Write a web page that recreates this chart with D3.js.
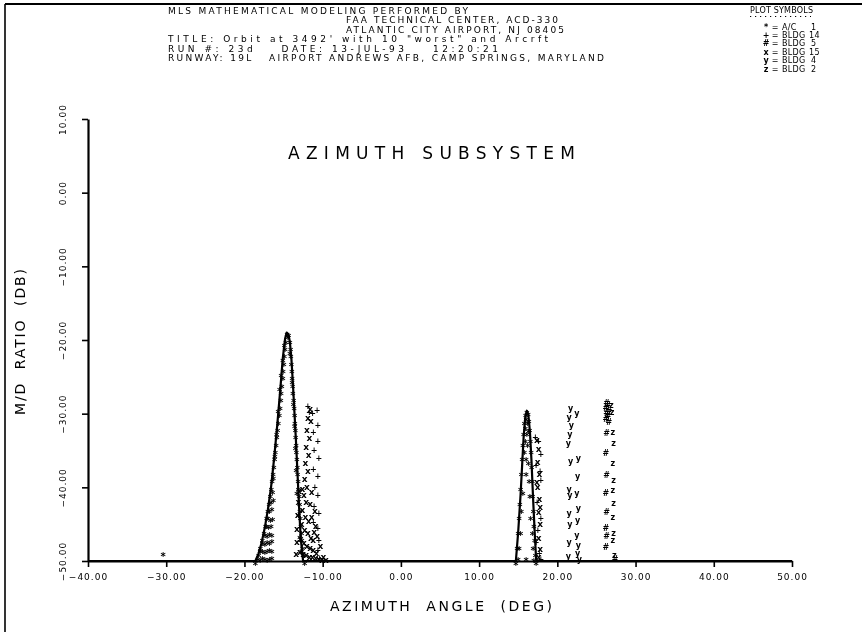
<!DOCTYPE html>
<html>
<head>
<meta charset="utf-8">
<script src="https://cdn.jsdelivr.net/npm/d3@7"></script>
<style>
  html, body { margin: 0; padding: 0; background: #fff; }
  svg { display: block; filter: grayscale(1); }
  text { font-family: "DejaVu Sans", "Liberation Sans", sans-serif; fill: #000; }
</style>
</head>
<body>
<svg id="chart" width="862" height="632"></svg>
<script>
// ---------------- DATA ----------------
const xTicks = [-40, -30, -20, -10, 0, 10, 20, 30, 40, 50];
const yTicks = [10, 0, -10, -20, -30, -40, -50];

const headerLines = [
  "MLS MATHEMATICAL MODELING PERFORMED BY",
  "FAA TECHNICAL CENTER, ACD-330",
  "ATLANTIC CITY AIRPORT, NJ 08405",
  "TITLE: Orbit at 3492' with 10 \"worst\" and Arcrft",
  "RUN #: 23d    DATE: 13-JUL-93    12:20:21",
  "RUNWAY: 19L   AIRPORT ANDREWS AFB, CAMP SPRINGS, MARYLAND"
];

const legendSymbols = ["*", "+", "#", "x", "y", "z"];
const legendNames = ["A/C", "BLDG", "BLDG", "BLDG", "BLDG", "BLDG"];
const legendNumbers = ["1", "14", "5", "15", "4", "2"];

// A/C 1 trace (solid line)
const acLine = [
  [-40,-50],[-18.6,-50],[-18.2,-49],[-17.8,-47.5],[-17.4,-45.5],[-17.0,-43],[-16.6,-40],
  [-16.2,-36],[-15.8,-31.5],[-15.4,-26.5],[-15.1,-22.5],[-14.8,-19.8],[-14.6,-19],
  [-14.4,-19.2],[-14.2,-20.2],[-14.0,-22.5],[-13.8,-26],[-13.6,-30],[-13.4,-34],
  [-13.2,-38.5],[-13.0,-43],[-12.8,-47],[-12.5,-50],[14.7,-50],[15.0,-46],[15.3,-41],
  [15.5,-37],[15.7,-33],[15.9,-30.5],[16.1,-29.6],[16.3,-30.2],[16.5,-32.5],[16.7,-36.5],
  [16.9,-41.5],[17.1,-46],[17.3,-50],[50,-50]
];

// A/C 1 plot symbols "*"
const acPoints = [
  [-18.6,-50],[-18.2,-49],[-17.95,-48],[-17.7,-47],[-17.5,-46],[-17.3,-45],[-17.15,-44],
  [-17.0,-43],[-16.85,-42],[-16.7,-41],[-16.55,-40],[-16.45,-39],[-16.35,-38],[-16.25,-37],
  [-16.15,-36],[-16.05,-35],[-15.95,-34],[-15.85,-33],[-15.75,-32],[-15.65,-31],[-15.55,-30],
  [-15.45,-29],[-15.35,-28],[-15.3,-27],[-15.2,-26],[-15.1,-25],[-15.05,-24],[-14.95,-23],
  [-14.9,-22],[-14.8,-21],[-14.7,-20],[-14.55,-19],[-14.45,-19.4],[-14.35,-19.1],
  [-14.2,-20],[-14.1,-21],[-14.05,-22],[-14.0,-23],[-13.95,-24],[-13.9,-25],[-13.85,-26],
  [-13.8,-27],[-13.7,-28],[-13.65,-29],[-13.6,-30],[-13.55,-31],[-13.5,-32],[-13.45,-33],
  [-13.4,-34],[-13.35,-35],[-13.3,-36],[-13.25,-37],[-13.2,-38],[-13.15,-39],[-13.1,-40],
  [-13.0,-41],[-12.95,-42],[-12.9,-43],[-12.85,-44],[-12.8,-45],[-12.7,-46],[-12.65,-47],
  [-12.55,-48],[-12.45,-49],[-12.3,-50],
  [-16.3,-38.5],[-16.1,-35.5],[-15.9,-32.5],[-15.7,-29.5],[-15.5,-26.5],[-15.3,-24.5],
  [-15.1,-22.5],[-14.9,-20.5],[-14.2,-21.5],[-13.9,-25.5],[-13.75,-28.5],[-13.6,-31.5],
  [-13.5,-34.5],[-13.4,-37.5],[-13.3,-40.5],[-13.1,-43.5],[-12.9,-46.5],[-12.7,-48.5],
  [-18.3,-49.5],[-18.0,-49.6],[-17.7,-49.4],[-17.4,-49.5],[-17.1,-49.6],[-16.8,-49.5],[-16.5,-49.4],
  [-18.0,-48.5],[-17.7,-48.4],[-17.4,-48.6],[-17.1,-48.5],[-16.8,-48.3],[-16.5,-48.5],
  [-17.7,-47.3],[-17.4,-47.5],[-17.1,-47.2],[-16.8,-47.4],[-16.5,-47.1],
  [-17.4,-46.2],[-17.1,-46.4],[-16.8,-46.1],[-16.5,-46.3],
  [-17.2,-45.1],[-16.9,-45.2],[-16.6,-45.0],[-17.0,-44.0],[-16.7,-44.2],[-16.4,-44.1],
  [-16.8,-43.0],[-16.5,-42.8],[-16.3,-41.5],[-16.6,-41.8],[-16.4,-40.4],
  [-30.4,-48.9],
  [14.7,-50],[14.85,-48],[15.0,-46],[15.1,-44],[15.2,-42],[15.3,-40],[15.4,-38],[15.5,-36],
  [15.6,-34],[15.7,-32.5],[15.8,-31],[15.95,-30],[16.1,-29.6],[16.25,-29.9],[16.35,-30.8],
  [16.45,-32],[16.55,-33.5],[16.65,-35],[16.7,-37],[16.8,-39],[16.85,-41],[16.95,-43],
  [17.0,-45],[17.1,-47],[17.2,-49],[17.3,-50],
  [16.0,-30.5],[16.2,-31],[15.9,-31.8],[16.1,-32.5],[16.3,-32.2],[15.9,-33.5],[16.2,-34],
  [15.8,-35],[16.0,-36],[16.3,-36.5],[16.0,-38],[16.4,-39],[15.6,-40.5],[16.5,-41],
  [15.4,-43],[16.6,-44],[15.3,-46],[16.8,-46],[15.1,-48],[16.9,-48],[15.0,-49.5],
  [16.0,-49.5],[17.0,-49.6]
];

// BLDG 14 "+"
const bldg14 = [
  [-10.7,-29.5],[-10.6,-31.5],[-10.6,-33.8],[-10.5,-36.0],[-10.6,-38.5],[-10.6,-41.0],
  [-10.5,-43.5],[-10.6,-45.5],[-10.5,-47.2],[-10.6,-48.6],[-10.4,-49.6],
  [-11.3,-30.0],[-11.2,-32.5],[-11.1,-35.0],[-11.2,-37.5],[-11.0,-40.0],[-11.1,-42.5],[-11.2,-44.8],
  [-11.9,-29.0],[-11.7,-29.8],
  [17.2,-33.2],[17.9,-35.5],[17.3,-37.0],[17.9,-39.0],[17.4,-42.0],[17.9,-44.2],[17.3,-47.5],
  [17.9,-49.8],[17.6,-33.8],[17.8,-37.8],[17.5,-45.8],[17.7,-48.9]
];

// BLDG 5 "#"
const bldg5 = [
  [26.3,-28.6],[26.5,-28.9],[26.2,-29.3],[26.6,-29.6],[26.3,-30.0],[26.5,-30.4],[26.2,-30.8],
  [26.6,-31.2],[26.3,-32.6],[26.2,-35.3],[26.3,-38.3],[26.2,-40.8],[26.3,-43.4],[26.2,-45.5],
  [26.3,-46.7],[26.2,-48.1],[27.4,-49.8]
];

// BLDG 15 "x"
const bldg15 = [
  [-11.6,-29.3],[-11.9,-30.5],[-11.5,-31.0],[-12.0,-32.2],[-11.7,-33.3],[-12.1,-34.5],
  [-11.8,-35.6],[-12.2,-36.7],[-11.9,-37.8],[-12.3,-38.9],[-12.0,-40.0],[-12.4,-41.0],
  [-12.1,-42.0],[-12.6,-43.0],[-12.2,-44.0],[-11.8,-44.5],[-12.7,-45.0],[-12.3,-45.8],
  [-11.9,-46.2],[-11.5,-46.8],[-12.8,-47.0],[-12.4,-47.5],[-12.0,-47.9],[-11.6,-48.2],
  [-11.2,-48.5],[-12.9,-48.8],[-12.5,-49.0],[-12.1,-49.2],[-11.7,-49.4],[-11.3,-49.5],
  [-10.9,-49.6],[-10.5,-49.7],[-10.1,-49.8],
  [-13.0,-40.5],[-12.6,-40.2],[-11.4,-40.6],[-13.1,-42.0],[-11.6,-42.3],[-11.0,-43.2],
  [-13.2,-43.8],[-11.4,-44.0],[-10.9,-45.2],[-13.3,-45.6],[-11.1,-46.0],[-10.7,-46.6],
  [-13.3,-47.4],[-11.2,-47.1],[-10.3,-48.0],[-13.4,-49.0],[-10.8,-48.9],[-9.9,-49.4],[-9.6,-49.8],
  [17.4,-33.5],[17.6,-34.8],[17.5,-36.5],[17.7,-38.2],[17.5,-40.0],[17.7,-41.5],
  [17.6,-43.3],[17.8,-45.0],[17.6,-46.8],[17.8,-48.3],[17.6,-49.5],[17.4,-39.2],[17.8,-42.6]
];

// BLDG 4 "y"
const bldg4 = [
  [21.7,-29.3],[21.5,-30.5],[21.8,-31.6],[21.6,-32.8],[21.4,-34.0],[21.7,-36.5],[21.5,-40.2],
  [21.6,-41.0],[21.5,-43.5],[21.6,-45.0],[21.5,-47.5],[21.4,-49.3],
  [22.5,-30.0],[22.7,-36.0],[22.6,-38.5],[22.5,-40.8],[22.7,-42.8],[22.6,-44.5],[22.5,-46.5],
  [22.7,-47.8],[22.6,-49.0],[22.8,-49.8]
];

// BLDG 2 "z"
const bldg2 = [
  [26.9,-28.8],[27.0,-29.8],[27.1,-32.5],[27.2,-34.0],[27.1,-36.7],[27.2,-39.0],[27.1,-40.4],
  [27.2,-42.1],[27.1,-44.0],[27.2,-46.2],[27.1,-47.2],[27.3,-49.2]
];

// ---------------- DRAW ----------------
const svg = d3.select("#chart");

// page frame
svg.append("line").attr("x1", 5).attr("y1", 4).attr("x2", 862).attr("y2", 4)
  .attr("stroke", "#000").attr("stroke-width", 2.2);
svg.append("line").attr("x1", 5).attr("y1", 4).attr("x2", 5).attr("y2", 632)
  .attr("stroke", "#000").attr("stroke-width", 1.6);

// header block
const headerX = [168, 346, 346, 168, 168, 168];
const headerY = [13.5, 23, 32.5, 42, 51.5, 61];
const headerW = [300, 212, 218, 380, 330, 436];
svg.append("g").selectAll("text").data(headerLines).join("text")
  .attr("x", (d, i) => headerX[i]).attr("y", (d, i) => headerY[i])
  .attr("font-size", 9)
  .attr("textLength", (d, i) => headerW[i]).attr("lengthAdjust", "spacing")
  .style("white-space", "pre")
  .text(d => d);

// legend
svg.append("text").attr("x", 750).attr("y", 13).attr("font-size", 8)
  .style("white-space", "pre").style("letter-spacing", "0.2px").text("PLOT SYMBOLS");
svg.append("line").attr("x1", 750).attr("x2", 811).attr("y1", 16.5).attr("y2", 16.5)
  .attr("stroke", "#000").attr("stroke-width", 1.2).attr("stroke-dasharray", "1.2,3.8");
const lg = svg.append("g");
const legY = (d, i) => 29.5 + i * 8.4;
lg.selectAll("text.sym").data(legendSymbols).join("text").attr("class", "sym")
  .attr("x", 766).attr("y", legY).attr("font-size", 8).attr("font-weight", "bold")
  .attr("text-anchor", "middle").text(d => d);
lg.selectAll("text.eq").data(legendSymbols).join("text").attr("class", "eq")
  .attr("x", 775).attr("y", legY).attr("font-size", 8)
  .attr("text-anchor", "middle").text("=");
lg.selectAll("text.nm").data(legendNames).join("text").attr("class", "nm")
  .attr("x", 782).attr("y", legY).attr("font-size", 8)
  .style("letter-spacing", "0.3px").text(d => d);
lg.selectAll("text.num").data(legendNumbers).join("text").attr("class", "num")
  .attr("x", (d) => d.length > 1 ? 809 : 811).attr("y", legY).attr("font-size", 8)
  .style("letter-spacing", "0.4px").text(d => d);

// scales
const x = d3.scaleLinear().domain([-40, 50]).range([88, 792]);
const y = d3.scaleLinear().domain([-50, 10]).range([561, 119]);

// title
svg.append("text").attr("x", 288).attr("y", 159).attr("font-size", 17)
  .attr("textLength", 287).attr("lengthAdjust", "spacing").text("AZIMUTH SUBSYSTEM");

// axes
const xAxis = d3.axisBottom(x).tickValues(xTicks).tickSize(6).tickSizeOuter(0)
  .tickPadding(7).tickFormat(d3.format(".2f"));
const gx = svg.append("g").attr("transform", "translate(0,561)").call(xAxis);
gx.selectAll("text").attr("font-size", 9).attr("font-family", "DejaVu Sans")
  .style("letter-spacing", "1px").attr("fill", "#000");

const yAxis = d3.axisLeft(y).tickValues(yTicks).tickSize(6).tickSizeOuter(0)
  .tickFormat(d3.format(".2f"));
const gy = svg.append("g").attr("transform", "translate(88,0)").call(yAxis);
gy.selectAll("text").attr("x", 0).attr("y", 0).attr("dy", "0.35em")
  .attr("text-anchor", "middle").attr("transform", "translate(-25,0) rotate(-90)")
  .attr("font-size", 9).attr("font-family", "DejaVu Sans")
  .style("letter-spacing", "1px").attr("fill", "#000");

[gx, gy].forEach(g => {
  g.select(".domain").attr("stroke", "#000").attr("stroke-width", 2.2);
  g.selectAll(".tick line").attr("stroke", "#000").attr("stroke-width", 1.6);
});

// axis titles
svg.append("text").attr("x", 330).attr("y", 611).attr("font-size", 14)
  .attr("textLength", 222).attr("lengthAdjust", "spacing").style("white-space", "pre")
  .text("AZIMUTH  ANGLE  (DEG)");
svg.append("text").attr("transform", "translate(25,342) rotate(-90)")
  .attr("text-anchor", "middle").attr("font-size", 14)
  .attr("textLength", 146).attr("lengthAdjust", "spacing").style("white-space", "pre")
  .text("M/D  RATIO  (DB)");

// A/C line
svg.append("path").datum(acLine)
  .attr("d", d3.line().x(d => x(d[0])).y(d => y(d[1])))
  .attr("fill", "none").attr("stroke", "#000").attr("stroke-width", 2.2)
  .attr("stroke-linejoin", "round");

// symbol series
const series = [
  { sym: "*", pts: acPoints, fs: 10 },
  { sym: "+", pts: bldg14, fs: 8 },
  { sym: "#", pts: bldg5, fs: 8 },
  { sym: "x", pts: bldg15, fs: 9 },
  { sym: "y", pts: bldg4, fs: 8 },
  { sym: "z", pts: bldg2, fs: 8 }
];
series.forEach(s => {
  svg.append("g").selectAll("text").data(s.pts).join("text")
    .attr("x", d => x(d[0])).attr("y", d => y(d[1]))
    .attr("dy", s.sym === "*" ? "0.75em" : "0.35em")
    .attr("text-anchor", "middle")
    .attr("font-size", s.fs).attr("font-weight", "bold")
    .text(s.sym);
});
</script>
</body>
</html>
